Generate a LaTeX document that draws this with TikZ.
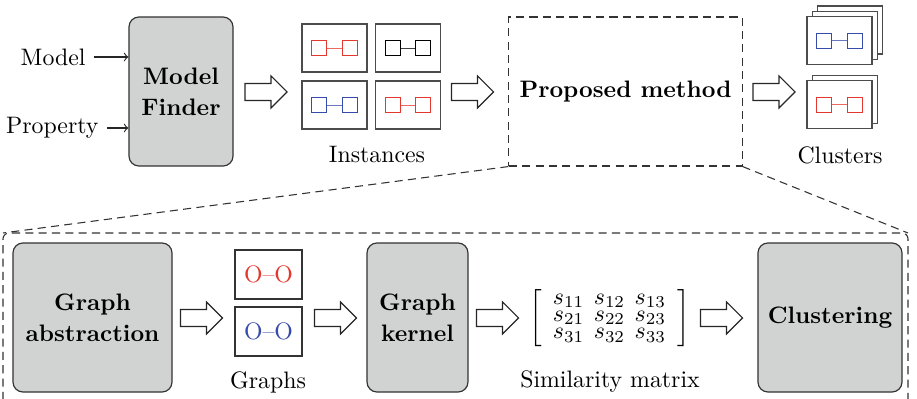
\documentclass[tikz,border=0pt]{standalone}
\usepackage{amsmath}
\usetikzlibrary{calc}
\definecolor{boxgray}{RGB}{209,211,211}
\definecolor{myred}{RGB}{228,55,45}
\definecolor{myblue}{RGB}{55,75,170}
\newcommand\sqpair[3]{%
  \node[sq=#3] (#1a) at ($(#2)+(-15.25,0)$) {};
  \node[sq=#3] (#1b) at ($(#2)+(15.25,0)$) {};
  \draw[#3!75, line width=0.35pt] (#1a) -- (#1b);}
\begin{document}
\begin{tikzpicture}[x=0.42pt,y=-0.42pt,
  proc/.style={draw=black!80, fill=boxgray, rounded corners=4.2pt, line width=0.5pt,
    align=center, font=\bfseries, inner sep=0pt, minimum height=62.6pt},
  inst/.style={draw=black!70, fill=white, line width=0.55pt, minimum width=27.3pt,
    minimum height=20.2pt, inner sep=0pt},
  gbox/.style={draw=black!80, fill=white, line width=0.5pt, minimum width=28.1pt,
    minimum height=20.6pt, inner sep=0pt},
  sq/.style={draw=#1, minimum size=6.3pt, inner sep=0pt, line width=0.4pt},
  lbl/.style={inner sep=0pt},
  fatarrow/.pic={\draw[black!85, line width=0.45pt, fill=white]
    (-21,-8.5) -- (5,-8.5) -- (5,-16) -- (21,0) -- (5,16) -- (5,8.5) -- (-21,8.5) -- cycle;},
  dsh/.style={dash pattern=on 3.4pt off 2.2pt, draw=black!80, line width=0.45pt}
]
\useasboundingbox (0,0) rectangle (917,399);
\clip (0,0) rectangle (917,399);

% ---------- top row ----------
\node[proc, minimum width=43.7pt] (mf) at (181,91.5) {Model\\[1pt]Finder};
\node[lbl, anchor=east] (model) at (86,57) {Model};
\node[lbl, anchor=east] (prop) at (99,128) {Property};
\draw[->, black!85, line width=0.45pt] (model.east) ++(8,0) coordinate (ms) -- (ms -| mf.west);
\draw[->, black!85, line width=0.45pt] (prop.east) ++(8,0) coordinate (ps) -- (ps -| mf.west);

\pic at (266,92) {fatarrow};

\node[inst] (i1) at (334.5,48) {};
\node[inst] (i2) at (408,48) {};
\node[inst] (i3) at (334.5,105) {};
\node[inst] (i4) at (408,105) {};
\sqpair{p1}{i1}{myred}
\sqpair{p2}{i2}{black}
\sqpair{p3}{i3}{myblue}
\sqpair{p4}{i4}{myred}
\node[lbl] (instl) at (377,155) {Instances};

\pic at (472.5,92) {fatarrow};

\node[dsh, minimum width=97.9pt, minimum height=62.6pt, font=\bfseries, text=black, inner sep=0pt]
  (pm) at (625.5,91.5) {Proposed method};

\pic at (774,92) {fatarrow};

% clusters
\node[inst] (c1c) at (850,30) {};
\node[inst] (c1b) at (844.75,35.25) {};
\node[inst] (c1a) at (839.5,40.5) {};
\sqpair{q1}{c1a}{myblue}
\node[inst] (c2b) at (844.75,99.5) {};
\node[inst] (c2a) at (839.5,104.75) {};
\sqpair{q2}{c2a}{myred}
\node[lbl] (clul) at (840,155) {Clusters};

% ---------- zoom lines and big box ----------
\coordinate (bl) at (3,233);
\coordinate (br) at (908,233);
\draw[dsh] (pm.south west) -- (bl);
\draw[dsh] (pm.south east) -- (br);
\draw[dsh, rounded corners=2.5pt] (3,440) -- (bl) -- (br) -- (908,440);

% ---------- bottom row ----------
\node[proc, minimum width=66.8pt] (ga) at (92.5,317.5) {Graph\\[1pt]abstraction};
\pic at (201.5,318) {fatarrow};
\node[gbox] (g1) at (268.5,274.5) {\textcolor{myred}{O--O}};
\node[gbox] (g2) at (268.5,331.5) {\textcolor{myblue}{O--O}};
\node[lbl] (grl) at (268,382) {Graphs};
\pic at (335.5,318) {fatarrow};
\node[proc, minimum width=42.4pt] (gk) at (417.5,317.5) {Graph\\[1pt]kernel};
\pic at (497.5,318) {fatarrow};
\node (sim) at (609.5,318) {$\left[\;\renewcommand\arraystretch{0.6}\setlength\arraycolsep{2pt}%
  \begin{array}{ccc} s_{11}&s_{12}&s_{13}\\ s_{21}&s_{22}&s_{23}\\ s_{31}&s_{32}&s_{33}\end{array}\;\right]$};
\node[lbl] (siml) at (610,382) {Similarity matrix};
\pic at (721.5,318) {fatarrow};
\node[proc, minimum width=60.5pt] (cl) at (830,317.5) {Clustering};
\end{tikzpicture}
\end{document}
